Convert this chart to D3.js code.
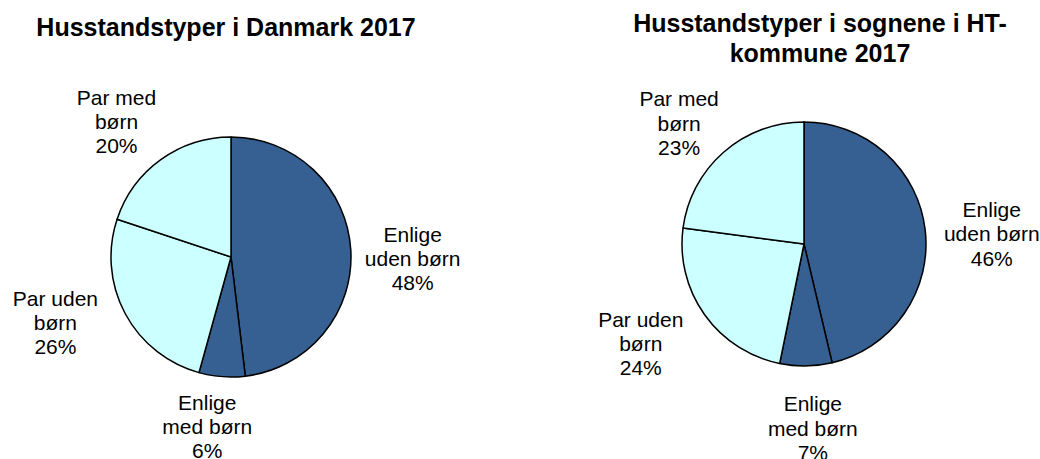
<!DOCTYPE html>
<html>
<head>
<meta charset="utf-8">
<script src="https://cdn.jsdelivr.net/npm/d3@7"></script>
<style>
  body { margin: 0; background: #fff; }
  text { font-family: "Liberation Sans", Arial, sans-serif; fill: #000; }
</style>
</head>
<body>
<script>
// data
const categories = ["Enlige uden børn", "Enlige med børn", "Par uden børn", "Par med børn"];
const labelLines = [["Enlige", "uden børn"], ["Enlige", "med børn"], ["Par uden", "børn"], ["Par med", "børn"]];
const danmarkValues = [48.1, 6.2, 25.8, 19.9];
const htValues = [46.3, 6.9, 23.9, 22.9];
const titleDanmark = ["Husstandstyper i Danmark 2017"];
const titleHT = ["Husstandstyper i sognene i HT-", "kommune 2017"];

const width = 1040, height = 459;
const labelR = 182, lineH = 24.2, fontSize = 21;

const color = d3.scaleOrdinal()
    .domain(categories)
    .range(["#366092", "#366092", "#ccffff", "#ccffff"]);

const panels = [
    {values: danmarkValues, title: titleDanmark, cx: 231, cy: 257, r: 120, titleX: 226, titleY: 36,
     nudge: [[0, 12], [-10, -12], [-15, -20], [-8, 12]]},
    {values: htValues, title: titleHT, cx: 804, cy: 244, r: 122, titleX: 820, titleY: 32,
     nudge: [[7, 11], [6, 2], [-15, -6], [-5, 16]]}
];

const svg = d3.select('body').append('svg')
    .attr('width', width)
    .attr('height', height);

const pie = d3.pie().sort(null).value(d => d.value);

panels.forEach(function(p) {
    const rows = categories.map((c, i) => ({cat: c, value: p.values[i], lines: labelLines[i], i: i}));
    const arcs = pie(rows);
    const arc = d3.arc().innerRadius(0).outerRadius(p.r);
    const labelArc = d3.arc().innerRadius(labelR).outerRadius(labelR);

    // title
    svg.append('text')
        .attr('x', p.titleX)
        .attr('y', p.titleY)
        .attr('text-anchor', 'middle')
        .attr('font-size', '25px')
        .attr('font-weight', 'bold')
        .selectAll('tspan')
        .data(p.title)
        .enter().append('tspan')
        .attr('x', p.titleX)
        .attr('dy', (d, i) => i === 0 ? 0 : 30)
        .text(d => d);

    const g = svg.append('g')
        .attr('transform', 'translate(' + p.cx + ',' + p.cy + ')');

    g.selectAll('path.slice')
        .data(arcs)
        .enter().append('path')
        .attr('class', 'slice')
        .attr('d', arc)
        .attr('fill', d => color(d.data.cat))
        .attr('stroke', '#000')
        .attr('stroke-width', 1.5)
        .attr('stroke-linejoin', 'round');

    const labels = g.selectAll('text.lab')
        .data(arcs)
        .enter().append('text')
        .attr('class', 'lab')
        .attr('text-anchor', 'middle')
        .attr('font-size', fontSize + 'px')
        .attr('transform', function(d) {
            const c = labelArc.centroid(d);
            const n = p.nudge[d.data.i];
            return 'translate(' + (c[0] + n[0]) + ',' + (c[1] + n[1]) + ')';
        });

    labels.selectAll('tspan')
        .data(d => d.data.lines.concat([Math.round(d.data.value) + '%']))
        .enter().append('tspan')
        .attr('x', 0)
        .attr('y', (d, i, nodes) => (i - (nodes.length - 1) / 2) * lineH + fontSize * 0.36)
        .text(d => d);
});
</script>
</body>
</html>
